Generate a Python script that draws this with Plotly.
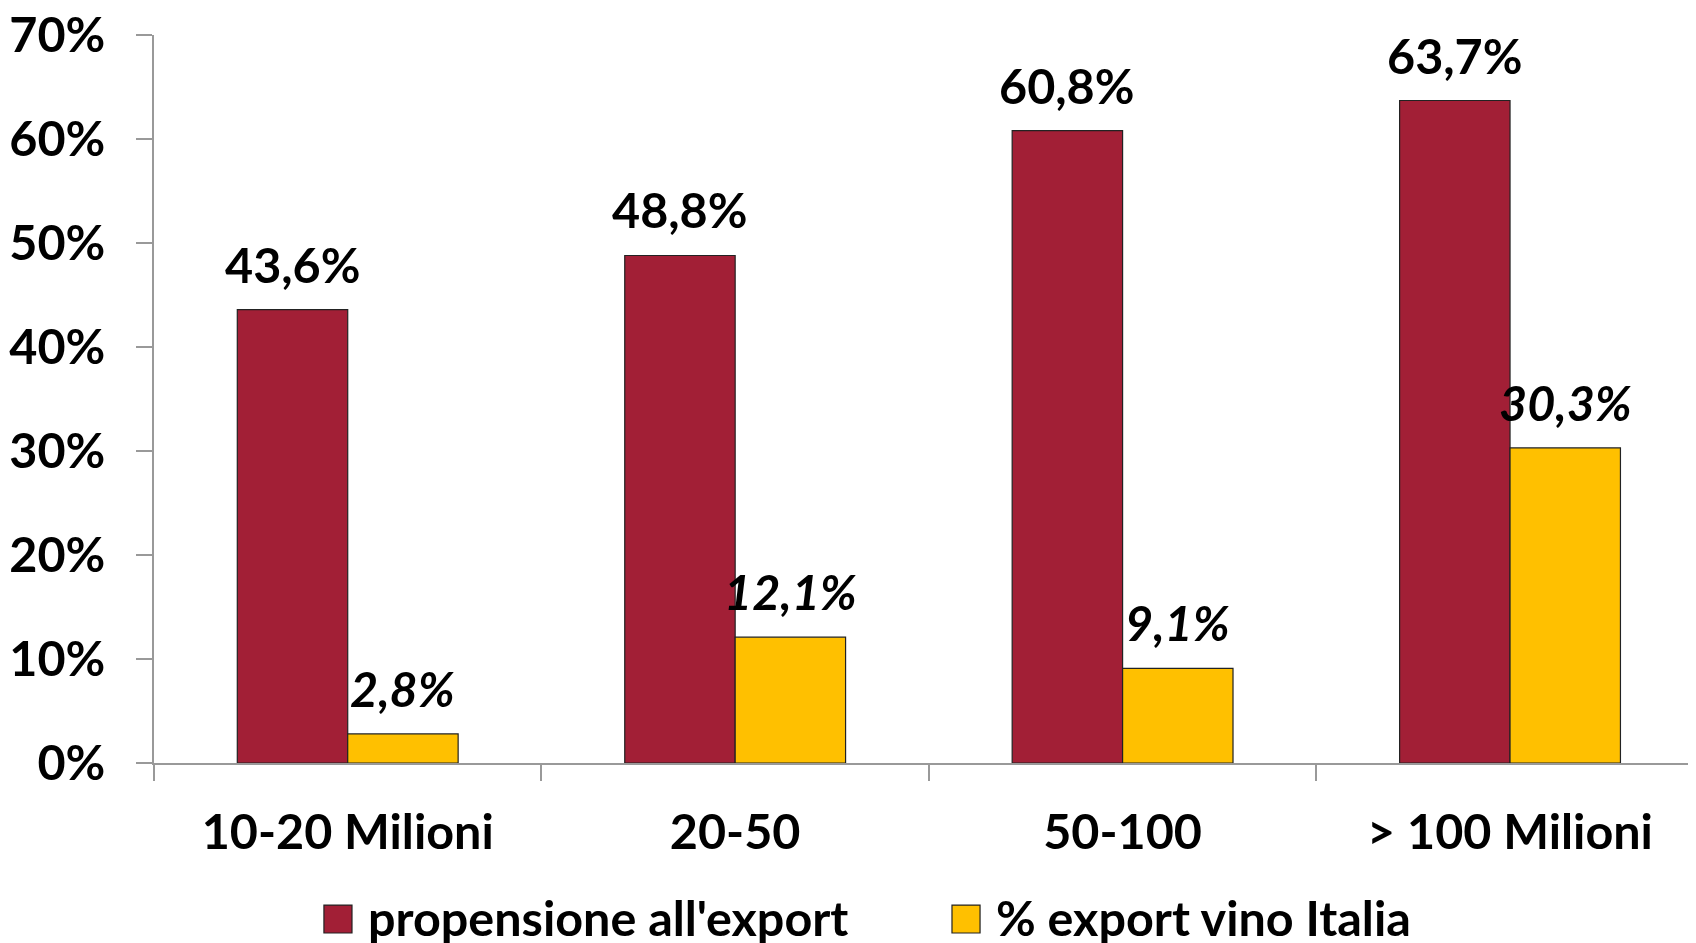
import plotly.graph_objects as go

categories = ["10-20 Milioni", "20-50", "50-100", "> 100 Milioni"]
propensione = [43.6, 48.8, 60.8, 63.7]
export_italia = [2.8, 12.1, 9.1, 30.3]
series_names = ["propensione all'export", "% export vino Italia"]
y_ticks = [0, 10, 20, 30, 40, 50, 60, 70]
y_tick_labels = [f"{v}%" for v in y_ticks]

RED = "#A21F36"
YELLOW = "#FFC000"
EDGE = "#222222"
FONT = "Lato"
FS = 48.5
BARGAP = 0.43

def fmt(v):
    return f"{v:.1f}".replace(".", ",") + "%"

fig = go.Figure()
fig.add_trace(go.Bar(x=categories, y=propensione, marker=dict(color=RED, line=dict(color=EDGE, width=1.2)),
                     showlegend=False, name=series_names[0]))
fig.add_trace(go.Bar(x=categories, y=export_italia, marker=dict(color=YELLOW, line=dict(color=EDGE, width=1.2)),
                     showlegend=False, name=series_names[1]))

off = (1 - BARGAP) / 4
annotations = []
for i, (a, b) in enumerate(zip(propensione, export_italia)):
    annotations.append(dict(x=i - off, y=a, xref="x", yref="y", text=fmt(a), showarrow=False,
                            yanchor="bottom", yshift=15,
                            font=dict(family=FONT, size=FS, color="black", weight="bold")))
    annotations.append(dict(x=i + off, y=b, xref="x", yref="y", text=fmt(b), showarrow=False,
                            yanchor="bottom", yshift=15,
                            font=dict(family=FONT, size=FS, color="black", weight="bold", style="italic")))

# custom legend (squares + labels) below the plot
shapes = []
legend_items = [(series_names[0], RED, 0.1102, 0.1284, 0.1375),
                (series_names[1], YELLOW, 0.5175, 0.5357, 0.5447)]
for name, col, x0, x1, xt in legend_items:
    shapes.append(dict(type="rect", xref="paper", yref="paper", x0=x0, x1=x1, y0=-0.1951, y1=-0.2335,
                       fillcolor=col, line=dict(color=EDGE, width=1.2)))
    annotations.append(dict(x=xt, y=-0.2110, xref="paper", yref="paper", text=name, showarrow=False,
                            xanchor="left", yanchor="middle",
                            font=dict(family=FONT, size=FS, color="black", weight="bold")))

# page body has an 8px margin, so the figure is 8px smaller to fit the window
fig.update_layout(
    width=1688, height=935,
    margin=dict(l=146, r=0, t=27, b=180),
    paper_bgcolor="white", plot_bgcolor="white",
    barmode="group", bargap=BARGAP, bargroupgap=0,
    font=dict(family=FONT, color="black"),
    annotations=annotations, shapes=shapes,
    showlegend=False,
)
fig.update_xaxes(type="category", range=[-0.5, 3.48], showline=True, linecolor="#999", linewidth=2,
                 ticks="outside", tickson="boundaries", ticklen=16, tickcolor="#999", tickwidth=2,
                 tickfont=dict(family=FONT, size=FS, color="black", weight="bold"),
                 ticklabelstandoff=26, showgrid=False, zeroline=False, automargin=False,
                 ticklabeloverflow="allow")
fig.update_yaxes(range=[0, 70], tickvals=y_ticks, ticktext=y_tick_labels, showline=True, linecolor="#999",
                 linewidth=2, ticks="outside", ticklen=16, tickcolor="#999", tickwidth=2,
                 tickfont=dict(family=FONT, size=FS, color="black", weight="bold"),
                 ticklabelstandoff=21, showgrid=False, zeroline=False, automargin=False,
                 ticklabeloverflow="allow")

fig.write_html("out.html")
